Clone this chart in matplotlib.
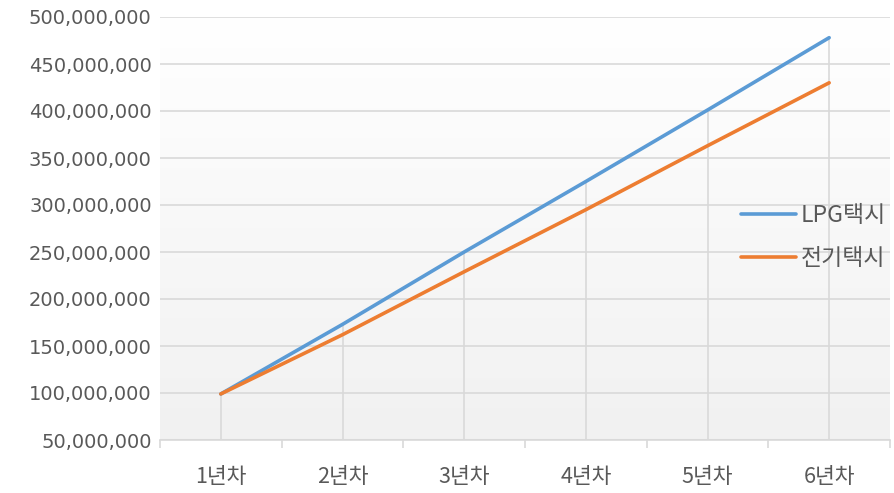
import matplotlib
matplotlib.use("Agg")
import matplotlib.pyplot as plt
import numpy as np
from matplotlib.ticker import FuncFormatter, FixedLocator

plt.rcParams['font.family'] = ['Noto Sans CJK KR', 'DejaVu Sans']

categories = ['1년차', '2년차', '3년차', '4년차', '5년차', '6년차']
lpg_taxi = [99_000_000, 173_000_000, 250_000_000, 325_000_000, 401_000_000, 478_000_000]
ev_taxi = [99_000_000, 162_000_000, 229_000_000, 295_000_000, 363_000_000, 430_000_000]
series_names = ['LPG택시', '전기택시']

W, H = 894, 493
fig = plt.figure(figsize=(W / 100, H / 100), dpi=100)
ax = fig.add_axes([160 / W, 1 - 440 / H, 730 / W, 423 / H])

x = np.arange(len(categories))
ymin, ymax = 50_000_000, 500_000_000

# vertical gradient background: white at top, light grey at bottom
grad = np.linspace(1.0, 0.945, 256).reshape(-1, 1)
ax.imshow(np.dstack([grad, grad, grad]), extent=[-0.5, len(categories) - 0.5, ymin, ymax],
          aspect='auto', origin='upper', zorder=0, interpolation='bicubic')
ax.set_ylim(ymin, ymax)
ax.set_xlim(-0.5, len(categories) - 0.5)

# horizontal gridlines
ax.set_yticks(np.arange(ymin, ymax + 1, 50_000_000))
ax.yaxis.grid(True, color='#d9d9d9', linewidth=1.2, zorder=1)
ax.set_axisbelow(True)

# drop lines from the highest value of each category down to the axis
tops = np.maximum(lpg_taxi, ev_taxi)
ax.vlines(x, ymin, tops, color='#d9d9d9', linewidth=1.2, zorder=1.5)

ax.plot(x, lpg_taxi, color='#5B9BD5', linewidth=2.6, solid_capstyle='round', label=series_names[0], zorder=3)
ax.plot(x, ev_taxi, color='#ED7D31', linewidth=2.6, solid_capstyle='round', label=series_names[1], zorder=3)

ax.yaxis.set_major_formatter(FuncFormatter(lambda v, p: f'{int(v):,}'))
ax.tick_params(axis='y', length=0, pad=6, labelcolor='#595959')
for lab in ax.get_yticklabels():
    lab.set_family('DejaVu Sans')
    lab.set_fontsize(14)

ax.set_xticks(x)
ax.set_xticklabels(categories)
ax.xaxis.set_minor_locator(FixedLocator(np.arange(-0.5, len(categories), 1.0)))
ax.tick_params(axis='x', which='major', length=0, pad=19, labelsize=15.5, labelcolor='#595959')
ax.tick_params(axis='x', which='minor', length=6, width=1.2, color='#d9d9d9')

for side in ['top', 'right', 'left']:
    ax.spines[side].set_visible(False)
ax.spines['bottom'].set_color('#d9d9d9')
ax.spines['bottom'].set_linewidth(1.2)

leg = fig.legend(loc='center left', bbox_to_anchor=(741 / W, 1 - 237 / H), frameon=False,
                 fontsize=16.5, handlelength=2.4, handletextpad=0.2, labelspacing=0.85,
                 borderaxespad=0, borderpad=0)
for t in leg.get_texts():
    t.set_color('#595959')

fig.savefig('out.png', dpi=100, facecolor='white')
